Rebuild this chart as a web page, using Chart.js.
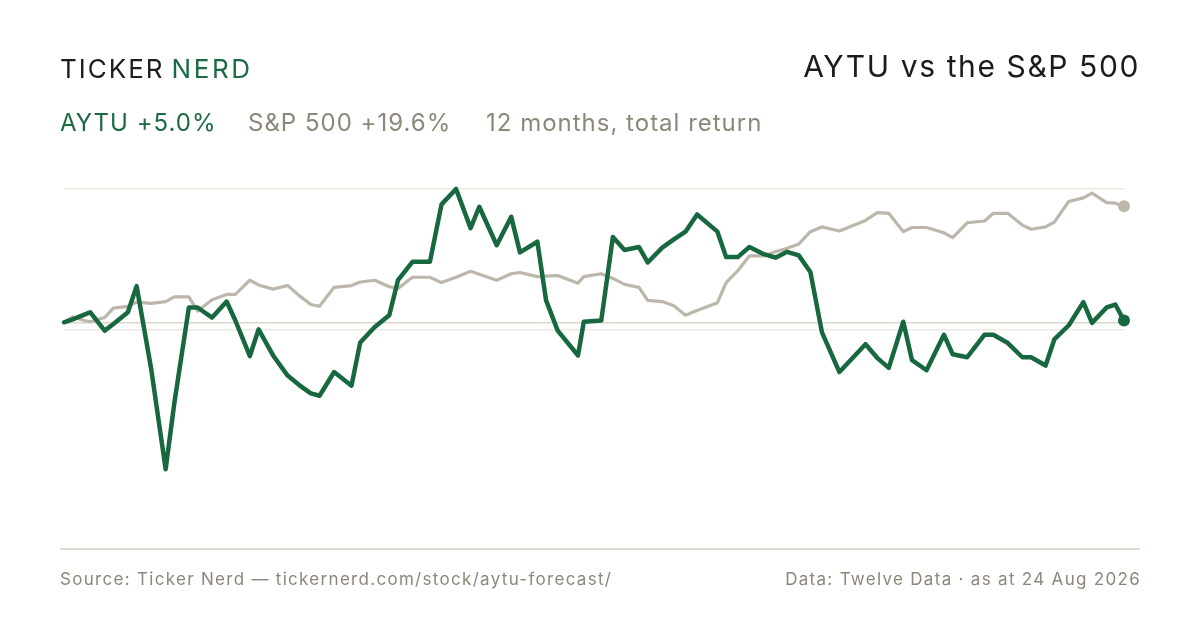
<!DOCTYPE html>
<html>
<head>
<meta charset="utf-8">
<script src="https://cdn.jsdelivr.net/npm/chart.js@4.4.1/dist/chart.umd.min.js"></script>
<style>
  body { margin: 0; background: #fff; font-family: Inter, "Noto Sans", sans-serif; }
  #wrap { position: relative; width: 1200px; height: 630px; overflow: hidden; }
  #chart { position: absolute; left: 0; top: 0; }
  .t { position: absolute; line-height: 1; white-space: nowrap; }
  .brand { left: 60px; top: 56px; font-size: 26px; letter-spacing: 2px; color: #1d1d1b; }
  .brand span { color: #1b6a42; margin-left: 7px; letter-spacing: 2.6px; }
  .title { right: 60px; top: 51px; font-size: 30px; letter-spacing: 1.6px; color: #1b1b1b; }
  .sub { top: 111px; font-size: 24px; letter-spacing: 1px; color: #8c8779; }
  .green { color: #1b6a42; }
  .rule { position: absolute; left: 60px; top: 548px; width: 1080px; height: 1.5px; background: #dedad0; }
  .foot { top: 571px; font-size: 17px; letter-spacing: 1.3px; color: #8c8779; }
</style>
</head>
<body>
<div id="wrap">
  <canvas id="chart" width="1200" height="630"></canvas>
  <div class="t brand">TICKER<span>NERD</span></div>
  <div class="t title">AYTU vs the S&amp;P 500</div>
  <div class="t sub green" style="left:60px">AYTU +5.0%</div>
  <div class="t sub" style="left:248px">S&amp;P 500 +19.6%</div>
  <div class="t sub" style="left:486px">12 months, total return</div>
  <div class="rule"></div>
  <div class="t foot" style="left:60px">Source: Ticker Nerd — tickernerd.com/stock/aytu-forecast/</div>
  <div class="t foot" style="right:59px">Data: Twelve Data · as at 24 Aug 2026</div>
</div>
<script>
// calendar days since 24 Aug 2025
const days = [0, 3, 7, 9, 14, 17, 22, 25, 30, 35, 38, 43, 46, 51, 56, 59, 64, 67, 72, 77,
  81, 85, 88, 93, 99, 102, 107, 112, 115, 120, 126, 130, 135, 140, 143, 149, 154, 157, 163, 166,
  170, 177, 179, 185, 189, 193, 198, 201, 206, 210, 214, 218, 225, 228, 232, 236, 241, 245, 249, 253,
  257, 261, 267, 276, 280, 284, 289, 292, 297, 303, 306, 311, 317, 320, 325, 330, 333, 338, 341, 346,
  351, 354, 359, 362, 365];

// % return since start
const aytu = [0, 0.5, 1.3, 1.7, -1.4, -0.3, 1.7, 6.1, -7.8, -24.8, -13.6, 2.5, 2.5, 0.8, 3.5, 0.3, -5.7, -1.2, -5.6, -9.0,
  -10.6, -12.0, -12.4, -8.4, -10.7, -3.4, -0.8, 1.2, 7.1, 10.2, 10.2, 19.9, 22.5, 15.9, 19.5, 13.0, 17.8, 11.8, 13.6, 3.7,
  -1.4, -5.6, 0.1, 0.3, 14.4, 12.2, 12.7, 10.1, 12.6, 14.0, 15.3, 18.2, 15.3, 11.0, 11.0, 12.7, 11.5, 10.9, 11.9, 11.3,
  8.5, -1.7, -8.4, -3.7, -6.0, -7.7, 0.1, -6.4, -8.1, -2.1, -5.4, -5.9, -2.1, -2.1, -3.5, -5.9, -5.9, -7.3, -2.9, -0.5,
  3.4, -0.1, 2.5, 3.0, 0.3];

const spx = [0, 0.9, 0.3, 0.1, 0.8, 2.4, 2.7, 3.4, 3.2, 3.5, 4.3, 4.3, 1.9, 3.8, 4.7, 4.7, 7.1, 6.3, 5.6, 6.2,
  4.5, 3.0, 2.7, 5.9, 6.2, 6.8, 7.1, 6.0, 5.7, 7.6, 7.6, 6.7, 7.6, 8.6, 8.1, 7.1, 8.2, 8.4, 7.7, 7.8,
  7.9, 6.6, 7.7, 8.2, 7.4, 6.4, 5.9, 3.7, 3.5, 2.8, 1.2, 2.0, 3.3, 6.7, 8.7, 11.2, 11.2, 11.9, 12.5, 13.2,
  15.3, 16.1, 15.4, 17.2, 18.5, 18.4, 15.3, 16.0, 16.0, 15.1, 14.3, 16.8, 17.1, 18.4, 18.4, 16.4, 15.7, 16.1, 16.9, 20.4,
  21.0, 21.8, 20.2, 20.1, 19.6];

const gridTicks = [-1.2, 0, 22.5];

const green = '#17673f';
const sand = '#bdb6aa';

function pts(vals) {
  return vals.map((v, i) => ({ x: days[i], y: v }));
}

function lastDot(n) {
  return ctx => ctx.dataIndex === n - 1 ? 6 : 0;
}

new Chart(document.getElementById('chart'), {
  type: 'line',
  data: {
    datasets: [
      {
        label: 'AYTU',
        data: pts(aytu),
        borderColor: green,
        backgroundColor: green,
        borderWidth: 4.5,
        pointRadius: lastDot(aytu.length),
        pointBorderWidth: 0,
        tension: 0,
        clip: false
      },
      {
        label: 'S&P 500',
        data: pts(spx),
        borderColor: sand,
        backgroundColor: sand,
        borderWidth: 3.2,
        pointRadius: lastDot(spx.length),
        pointBorderWidth: 0,
        tension: 0,
        clip: false
      }
    ]
  },
  options: {
    responsive: false,
    animation: false,
    layout: { padding: { left: 64, right: 76, top: 189, bottom: 130 } },
    elements: { line: { borderCapStyle: 'round', borderJoinStyle: 'round' } },
    plugins: { legend: { display: false }, tooltip: { enabled: false } },
    scales: {
      x: { type: 'linear', min: 0, max: 365, display: false },
      y: {
        min: -30,
        max: 22.5,
        afterBuildTicks: axis => { axis.ticks = gridTicks.map(v => ({ value: v })); },
        ticks: { display: false },
        border: { display: false },
        grid: {
          drawTicks: false,
          lineWidth: 1.5,
          color: ctx => ctx.tick && ctx.tick.value === 0 ? '#dcd7ca' : '#ece9e2'
        }
      }
    }
  }
});
</script>
</body>
</html>
